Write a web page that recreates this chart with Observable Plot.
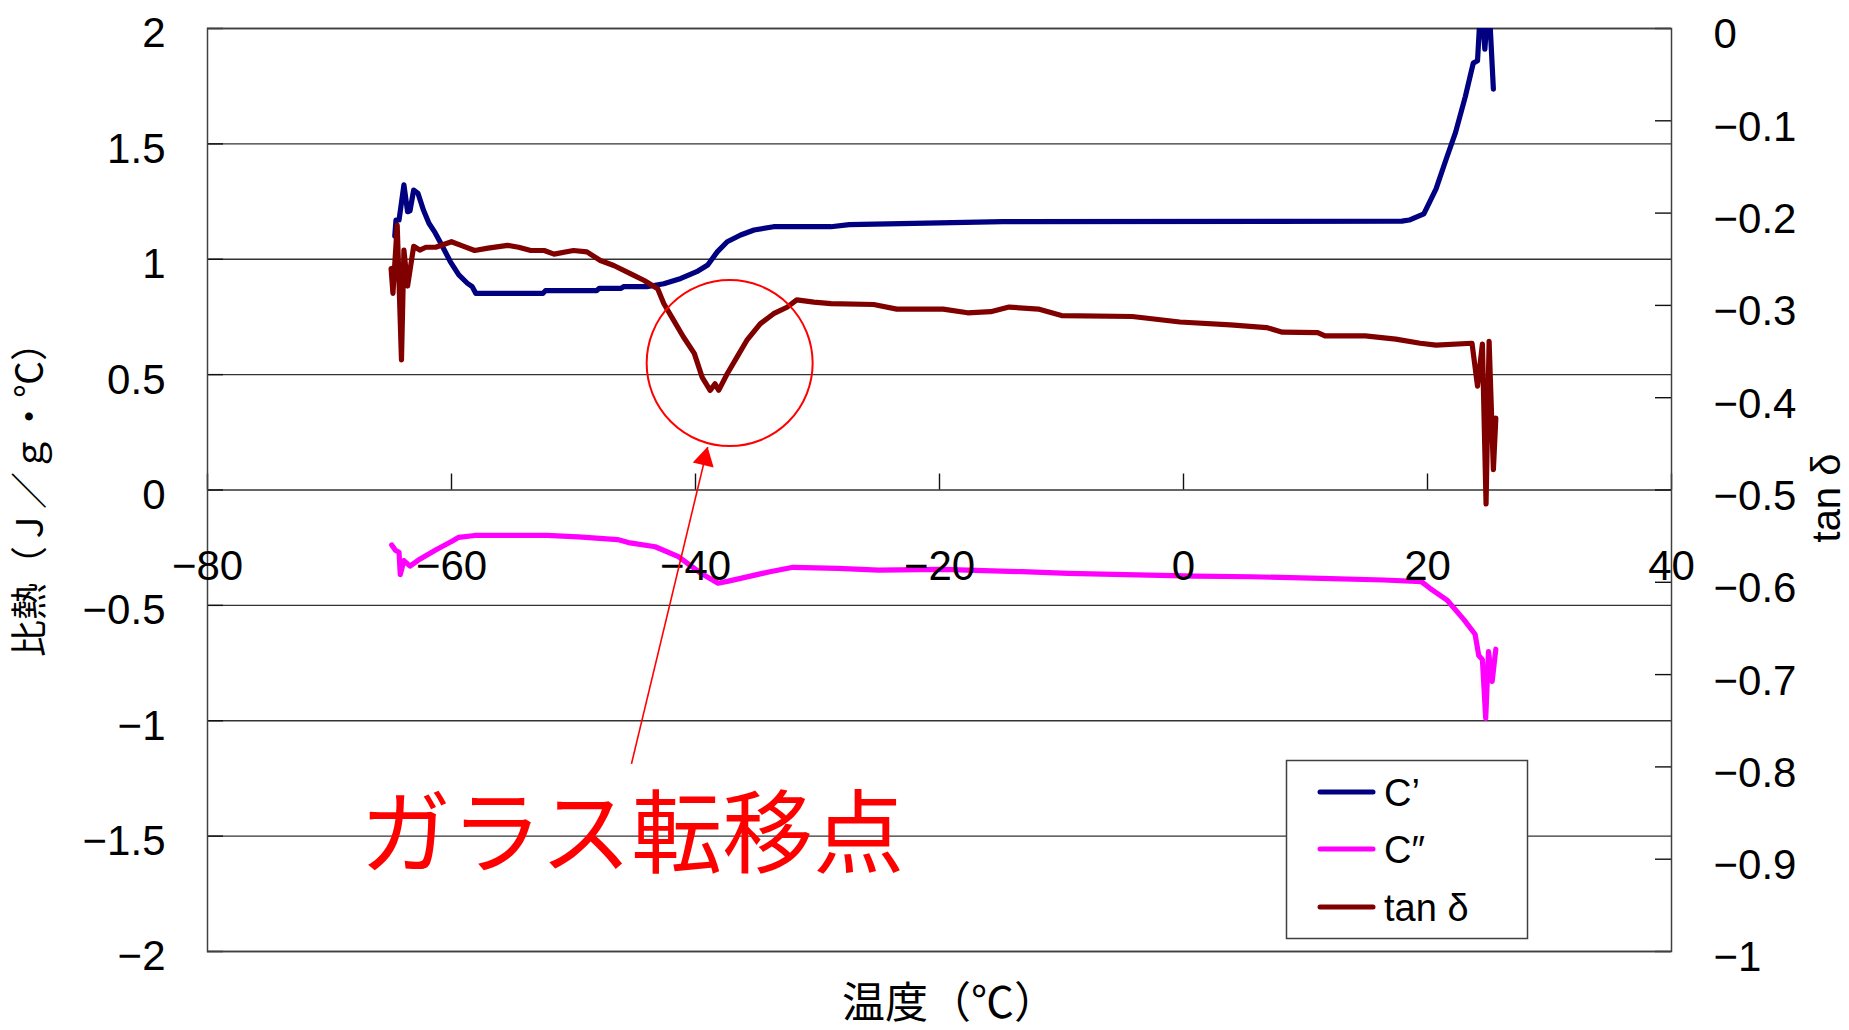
<!DOCTYPE html>
<html>
<head>
<meta charset="utf-8">
<script src="https://cdn.jsdelivr.net/npm/d3@7"></script>
<script src="https://cdn.jsdelivr.net/npm/@observablehq/plot@0.6"></script>
<style>
  html, body { margin: 0; padding: 0; background: #fff; }
  #chart { width: 1849px; height: 1030px; }
</style>
</head>
<body>
<div id="chart"></div>
<script>
// ---- data ----
const xTicks = [-80, -60, -40, -20, 0, 20, 40];
const yTicks = [2, 1.5, 1, 0.5, 0, -0.5, -1, -1.5, -2];
const y2Ticks = [0, -0.1, -0.2, -0.3, -0.4, -0.5, -0.6, -0.7, -0.8, -0.9, -1];

const seriesNames = ["C’", "C″", "tan δ"];
const seriesColors = ["#000080", "#FF00FF", "#800000"];

// C' (left axis)
const cPrimeT = [-64.65, -64.55, -64.3, -63.9, -63.6, -63.4, -63.1, -62.75, -62.3, -61.85, -61.4, -60.8, -60.1, -59.4, -58.7, -58.3, -58.0,
  -52.5, -52.3, -48.1, -47.9, -46.1, -45.9, -44.0, -42.6, -41.2, -39.9, -39.0, -38.2, -37.4, -36.3, -35.2, -33.6, -28.9, -27.4, -20.0, -14.8,
  17.9, 18.5, 19.7, 20.7, 21.5, 22.3, 23.1, 23.75, 24.1, 24.3, 24.5, 24.7, 24.9, 25.1, 25.4];
const cPrimeV = [1.10, 1.17, 1.17, 1.322, 1.206, 1.21, 1.30, 1.286, 1.213, 1.156, 1.12, 1.062, 0.99, 0.932, 0.896, 0.881, 0.852,
  0.852, 0.864, 0.864, 0.874, 0.874, 0.881, 0.881, 0.894, 0.917, 0.946, 0.975, 1.033, 1.076, 1.105, 1.127, 1.141, 1.141, 1.15, 1.158, 1.163,
  1.165, 1.17, 1.197, 1.305, 1.429, 1.55, 1.705, 1.85, 1.86, 2.05, 2.05, 1.91, 2.05, 2.05, 1.737];

// C'' (left axis)
const cDoubleT = [-64.9, -64.6, -64.3, -64.2, -63.9, -63.4, -62.6, -61.3, -60.0, -59.4, -58.1, -52.2, -49.6, -46.4, -45.5, -43.3, -41.4, -39.55,
  -38.15, -37.3, -36.3, -33.9, -32.0, -28.3, -25.0, -19.8, -13.2, -9.45, -3.8, 0.9, 5.6, 11.3, 16.4, 19.5, 20.2, 21.6, 23.0, 23.9, 24.2, 24.5,
  24.77, 25.0, 25.3, 25.6];
const cDoubleV = [-0.238, -0.261, -0.27, -0.367, -0.306, -0.33, -0.30, -0.26, -0.223, -0.205, -0.197, -0.197, -0.203, -0.215, -0.228, -0.246, -0.289, -0.361,
  -0.404, -0.395, -0.383, -0.354, -0.335, -0.34, -0.347, -0.344, -0.354, -0.361, -0.368, -0.373, -0.376, -0.383, -0.39, -0.397, -0.426, -0.477, -0.563, -0.625, -0.717, -0.735,
  -0.99, -0.70, -0.83, -0.69];

// tan δ (right axis)
const tanDT = [-64.95, -64.8, -64.45, -64.1, -63.9, -63.6, -63.1, -62.6, -62.1, -61.3, -60.0, -59.0, -58.1, -57.0, -55.4, -54.5, -53.5, -52.4,
  -51.6, -50.0, -48.9, -47.8, -46.7, -45.3, -44.2, -43.1, -42.6, -41.8, -41.0, -40.1, -39.45, -38.8, -38.4, -38.1, -37.4, -36.6, -35.8, -34.7,
  -33.6, -32.5, -31.7, -30.3, -28.9, -25.4, -23.5, -19.7, -17.7, -15.8, -14.3, -11.9, -10.0, -4.2, -0.3, 3.85, 6.8, 8.1, 11.0, 11.6, 14.9, 17.4, 19.4, 20.7, 23.65,
  24.1, 24.5, 24.8, 25.05, 25.4, 25.6];
const tanDV = [-0.26, -0.287, -0.213, -0.359, -0.24, -0.279, -0.236, -0.24, -0.237, -0.237, -0.231, -0.236, -0.2405, -0.238, -0.235, -0.237, -0.2405, -0.2405,
  -0.2444, -0.2405, -0.242, -0.2514, -0.2568, -0.2658, -0.273, -0.282, -0.298, -0.316, -0.334, -0.352, -0.378, -0.392, -0.385, -0.392, -0.374, -0.356, -0.338, -0.32,
  -0.309, -0.302, -0.294, -0.2965, -0.298, -0.299, -0.304, -0.304, -0.308, -0.3068, -0.3018, -0.304, -0.311, -0.312, -0.318, -0.321, -0.324, -0.329, -0.3295, -0.333, -0.333, -0.3365, -0.341, -0.343, -0.341,
  -0.3876, -0.342, -0.515, -0.339, -0.478, -0.422];

// annotation (data units)
const noteText = "ガラス転移点";
const notePos = {x: -67.5, y: -1.63};
const circlePos = {x: -37.2, y: 0.55};
const arrowFrom = {x: -45.25, y: -1.187};
const arrowTo = {x: -39.0, y: 0.186};
const arrowHead = {x: -39.25, y: 0.135};

// ---- helpers ----
const minus = d => String(d).replace("-", "\u2212");
const y2toY = t => 2 + 4 * t; // right axis (0..-1) onto left axis (2..-2)

const cPrime = d3.zip(cPrimeT, cPrimeV).map(([x, y]) => ({x, y}));
const cDouble = d3.zip(cDoubleT, cDoubleV).map(([x, y]) => ({x, y}));
const tanD = d3.zip(tanDT, tanDV).map(([x, t]) => ({x, y: y2toY(t)}));

const jp = "'Noto Sans CJK JP', 'Noto Sans', sans-serif";
const num = "'Liberation Sans', Arial, sans-serif";
const axisColor = "#333";

const plot = Plot.plot({
  width: 1849,
  height: 1030,
  marginLeft: 207,
  marginRight: 178,
  marginTop: 28,
  marginBottom: 79,
  x: {domain: [-80, 40], axis: null},
  y: {domain: [-2, 2], axis: null},
  style: {fontFamily: jp, background: "#fff", color: "#000"},
  marks: [
    // grid lines (left axis)
    Plot.ruleY(yTicks, {stroke: axisColor, strokeWidth: 1.3}),
    // left-axis inside ticks
    Plot.ruleY(yTicks, {x1: -80, x2: -80 + 16 / 12.2, stroke: "#111", strokeWidth: 1.4}),
    // right-axis inside ticks
    Plot.ruleY(y2Ticks, {y: d => y2toY(d), x1: 40 - 16 / 12.2, x2: 40, stroke: "#111", strokeWidth: 1.4}),
    // x ticks on the y=0 line
    Plot.ruleX(xTicks, {y1: 0, y2: 16 / 230.75, stroke: "#111", strokeWidth: 1.4}),
    Plot.frame({stroke: "#404040", strokeWidth: 1.5}),
    // series
    Plot.line(cDouble, {x: "x", y: "y", stroke: seriesColors[1], strokeWidth: 5.2, clip: true}),
    Plot.line(cPrime, {x: "x", y: "y", stroke: seriesColors[0], strokeWidth: 5.2, clip: true}),
    Plot.line(tanD, {x: "x", y: "y", stroke: seriesColors[2], strokeWidth: 5.2, clip: true}),
    // x tick labels (axis crosses at y = 0)
    Plot.text(xTicks, {x: d => d, y: 0, text: d => minus(d), dy: 76.5, fontSize: 42, fontFamily: num, textAnchor: "middle", lineAnchor: "middle"}),
    // left tick labels
    Plot.text(yTicks, {x: -80, y: d => d, text: d => minus(d), dx: -42, dy: 5.5, fontSize: 42, fontFamily: num, textAnchor: "end", lineAnchor: "middle"}),
    // right tick labels
    Plot.text(y2Ticks, {x: 40, y: d => y2toY(d), text: d => minus(d), dx: 42, dy: 6.5, fontSize: 42, fontFamily: num, textAnchor: "start", lineAnchor: "middle"}),
    // axis titles
    Plot.text(["比熱（Ｊ／ｇ・℃）"], {frameAnchor: "left", dx: -176, dy: 0.5, rotate: -90, fontSize: 37, textAnchor: "middle", lineAnchor: "middle"}),
    Plot.text(["tan δ"], {frameAnchor: "right", dx: 168, dy: 8, rotate: -90, fontSize: 40, fontFamily: num, textAnchor: "middle", lineAnchor: "bottom"}),
    Plot.text(["温度（℃）"], {frameAnchor: "bottom", dx: 10, dy: 53, fontSize: 43, textAnchor: "middle", lineAnchor: "middle"}),
    // annotation
    Plot.dot([circlePos], {x: "x", y: "y", r: 83, stroke: "#FF0000", strokeWidth: 2, fill: "none"}),
    Plot.link([0], {x1: arrowFrom.x, y1: arrowFrom.y, x2: arrowTo.x, y2: arrowTo.y, stroke: "#FF0000", strokeWidth: 1.6}),
    Plot.dot([arrowHead], {x: "x", y: "y", symbol: "triangle", r: 8, fill: "#FF0000", stroke: "none", rotate: 13.5}),
    Plot.text([noteText], {x: notePos.x, y: notePos.y, text: d => d, fontSize: 91, fill: "#FF0000", textAnchor: "start", lineAnchor: "bottom"})
  ]
});

// legend (inside plot area, bottom right)
const svg = d3.select(plot);
const lg = svg.append("g").attr("font-family", num).attr("text-anchor", "start");
lg.append("rect").attr("x", 1286.5).attr("y", 760.5).attr("width", 241).attr("height", 178)
  .attr("fill", "#fff").attr("stroke", "#404040").attr("stroke-width", 1.5);
const rowsY = [792, 849, 907];
seriesNames.forEach((name, i) => {
  lg.append("line").attr("x1", 1320).attr("x2", 1373).attr("y1", rowsY[i]).attr("y2", rowsY[i])
    .attr("stroke", seriesColors[i]).attr("stroke-width", 5).attr("stroke-linecap", "round");
  lg.append("text").attr("x", 1384).attr("y", rowsY[i]).attr("dy", "0.36em")
    .attr("text-anchor", "start").attr("font-size", 38).attr("fill", "#000").text(name);
});

document.getElementById("chart").appendChild(plot);
</script>
</body>
</html>
